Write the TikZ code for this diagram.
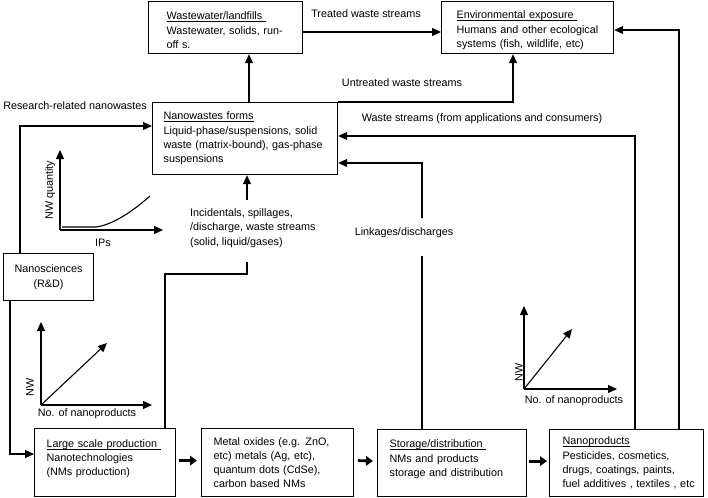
\documentclass[tikz,border=0pt]{standalone}
\usepackage{fontspec}
\setmainfont{Liberation Sans}
\usetikzlibrary{arrows.meta,calc}
\newcommand\myul[1]{\setbox0\hbox{#1}\rlap{\rule[-2.2pt]{\wd0}{0.9pt}}\box0}
\newcommand\topstrut{\rule{0pt}{13.5pt}}
\newcommand\botstrut{\rule[-10pt]{0pt}{10pt}}
\begin{document}
\begin{tikzpicture}[x=1pt,y=-1pt,
  every node/.style={font=\fontsize{10.8}{14.3}\selectfont},
  box/.style={draw, line width=1.2pt, anchor=north west, align=left, inner ysep=2pt},
  lbl/.style={inner sep=1pt},
  arr/.style={line width=1.1pt, -{Triangle[length=9pt,width=8pt]}},
  thk/.style={line width=2.8pt, -{Triangle[length=7pt,width=9.5pt]}},
  ln/.style={line width=1.1pt}]
\useasboundingbox (0,0) rectangle (708,497);

% boxes
\node[box, minimum width=154pt, minimum height=52pt, inner xsep=18pt, text width=118pt] (ww) at (148,1)
  {\topstrut\mbox{\myul{Wastewater/landfills\ }}\\\mbox{Wastewater, solids, run-}\\\mbox{off s.}};
\node[box, minimum width=172pt, minimum height=52pt, inner xsep=15pt, text width=142pt] (env) at (441,1)
  {\topstrut\mbox{\myul{Environmental exposure\ }}\\\mbox{Humans and other ecological}\\\mbox{systems (fish, wildlife, etc)}};
\node[box, minimum width=185pt, minimum height=72pt, inner xsep=11pt, text width=163pt] (nw) at (152,102)
  {\mbox{\myul{Nanowastes forms}}\\\mbox{Liquid-phase/suspensions, solid}\\\mbox{waste (matrix-bound), gas-phase}\\\mbox{suspensions}};
\node[box, minimum width=90pt, minimum height=47pt, align=center] (ns) at (3,253)
  {Nanosciences\\(R\&D)};
\node[box, minimum width=141pt, minimum height=68pt, inner xsep=12pt, text width=117pt] (ls) at (34,428)
  {\mbox{\myul{Large scale production\ }}\\\mbox{Nanotechnologies}\\\mbox{(NMs production)}\botstrut};
\node[box, minimum width=152pt, minimum height=68pt, inner xsep=12pt, text width=128pt] (mo) at (201,428)
  {\mbox{Metal oxides (e.g. ZnO,}\\\mbox{etc) metals (Ag, etc),}\\\mbox{quantum dots (CdSe),}\\\mbox{carbon based NMs}};
\node[box, minimum width=149pt, minimum height=67pt, inner xsep=12pt, text width=125pt] (st) at (377,429)
  {\mbox{\myul{Storage/distribution\ }}\\\mbox{NMs and products}\\\mbox{storage and distribution}\botstrut};
\node[box, minimum width=154pt, minimum height=67pt, inner xsep=13pt, text width=128pt] (np) at (549,429)
  {\mbox{\myul{Nanoproducts}}\\\mbox{Pesticides, cosmetics,}\\\mbox{drugs, coatings, paints,}\\\mbox{fuel additives , textiles , etc}};

% labels
\node[lbl] (tws) at (366,14) {Treated waste streams};
\node[lbl] (uws) at (402,83) {Untreated waste streams};
\node[lbl] (wsa) at (482,119) {Waste streams (from applications and consumers)};
\node[lbl] (lk) at (404,233) {Linkages/discharges};
\node[lbl] (rr) at (75,106) {Research-related nanowastes};
\node[lbl, anchor=west, align=left] (inc) at (189,228) {Incidentals, spillages,\\/discharge, waste streams\\(solid, liquid/gases)};

% connectors
\draw[arr] (nw.north -| 249,0) -- (ww.south -| 249,0);
\draw[arr] (ww.east |- 0,32) -- (env.west |- 0,32);
\draw[arr] (nw.north east) -| (env.south -| 513,0);
\draw[arr] (np.north -| 635,0) |- (nw.east |- 0,136);
\coordinate (lkb) at (422,256);
\coordinate (lkt) at (422,218);
\draw[ln] (st.north -| 422,0) -- (lkb);
\draw[arr] (lkt) |- (nw.east |- 0,163);
\draw[arr] (np.north -| 679,0) |- (env.east |- 0,30);
\draw[arr] (ns.north -| 20,0) |- (nw.west |- 0,126);
\draw[arr] (ns.south -| 10,0) |- (ls.west |- 0,454);
\coordinate (inct) at (247,200);
\coordinate (incb) at (247,262);
\draw[arr] (inct) -- (nw.south -| 247,0);
\draw[ln] (ls.north -| 165,0) |- (247,274) -- (incb);

\draw[thk] ($(ls.east)+(3,-2)$) -- ($(mo.west)+(-4,-2)$);
\draw[thk] ($(mo.east)+(4,-2)$) -- ($(st.west)+(-4,-2)$);
\draw[thk] ($(st.east)+(2,-2)$) -- ($(np.west)+(-2,-2)$);

% graph 1
\coordinate (g1) at (60,230);
\draw[arr] (g1) -- (60,150);
\draw[arr] (g1) -- (163,230);
\draw[line width=1.1pt] (62,227) -- (96,227) .. controls (112,225) and (132,212) .. (150,196);
\node[rotate=90] (g1y) at (50,190) {NW quantity};
\node (g1x) at (103,243) {IPs};

% graph 2
\coordinate (g2) at (41,405);
\draw[arr] (g2) -- (41,322);
\draw[arr] (g2) -- (152,405);
\draw[arr] (g2) -- (107,343);
\node[rotate=90] (g2y) at (30,387) {NW};
\node (g2x) at (87,414) {No. of nanoproducts};

% graph 3
\coordinate (g3) at (524,389);
\draw[arr] (g3) -- (524,306);
\draw[arr] (g3) -- (617,389);
\draw[arr] (g3) -- (572,329);
\node[rotate=90] (g3y) at (519,372) {NW};
\node (g3x) at (574,401) {No. of nanoproducts};
\end{tikzpicture}
\end{document}
